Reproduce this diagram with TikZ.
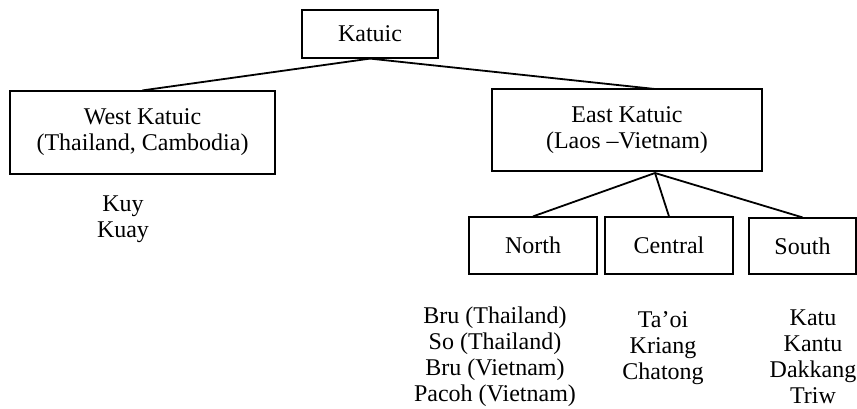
\documentclass[tikz,border=0pt]{standalone}
\usepackage{fontspec}
\setmainfont{Liberation Serif}
\usetikzlibrary{positioning}
\tikzset{
x=0.5pt,
y=-0.5pt,
every node/.style={font=\fontsize{12pt}{13pt}\selectfont, inner sep=0pt},
group/.style={draw, line width=0.6pt, align=center},
langs/.style={align=center},
link/.style={line width=0.9pt},
}

\begin{document}
\begin{tikzpicture}
    \useasboundingbox (0,0) rectangle (857,408);

    %top
    \node[group,minimum width=68pt,minimum height=24pt] (katuic) at (370,34) {Katuic};

    %branches
    \node[group,minimum width=132.5pt,minimum height=41.5pt] (west) at (142.5,132.5) {West Katuic\\(Thailand, Cambodia)};
    \node[group,minimum width=135pt,minimum height=41pt] (east) at (627,130) {East Katuic\\(Laos \textendash Vietnam)};
    \coordinate (etop) at (655,89);
    \coordinate (ebot) at (655,173);

    %east subgroups
    \node[group,minimum width=64pt,minimum height=28.5pt] (north) at (533,245.5) {North};
    \node[group,minimum width=64pt,minimum height=28.5pt] (central) at (669,245.5) {Central};
    \node[group,minimum width=53.5pt,minimum height=28pt] (south) at (802.5,246) {South};

    %languages
    \node[langs,node distance=43.5pt,xshift=-9.75pt,below of=west] (westlangs) {Kuy\\Kuay};
    \node[langs,node distance=55.75pt,xshift=-19pt,below of=north] (northlangs) {Bru (Thailand)\\So (Thailand)\\Bru (Vietnam)\\Pacoh (Vietnam)};
    \node[langs,node distance=51.5pt,xshift=-3pt,below of=central] (centrallangs) {Ta’oi\\Kriang\\Chatong};
    \node[langs,node distance=55.5pt,xshift=5.25pt,below of=south] (southlangs) {Katu\\Kantu\\Dakkang\\Triw};

    \draw[link] (katuic.south) to (west.north);
    \draw[link] (katuic.south) to (etop);
    \draw[link] (ebot) to (north.north);
    \draw[link] (ebot) to (central.north);
    \draw[link] (ebot) to (south.north);

\end{tikzpicture}
\end{document}
